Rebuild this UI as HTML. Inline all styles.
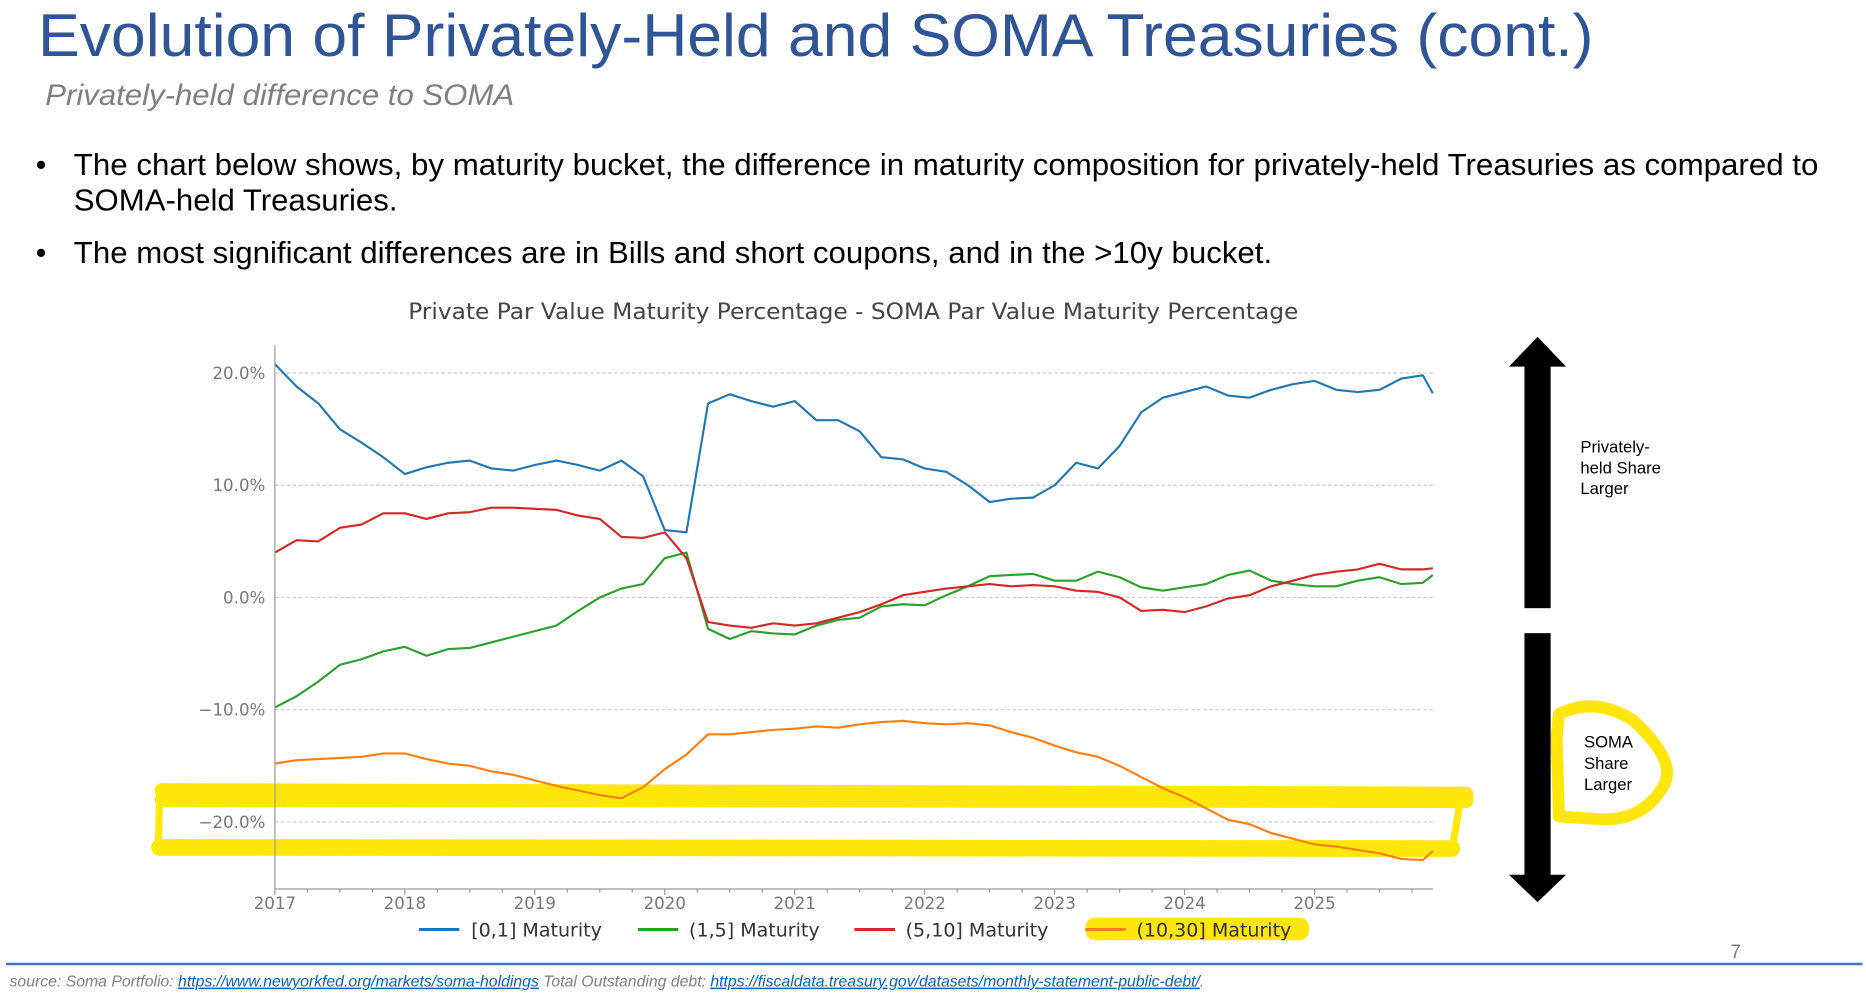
<!DOCTYPE html>
<html><head><meta charset="utf-8"><style>
html,body{margin:0;padding:0;background:#fff;width:1866px;height:995px;overflow:hidden}
svg{display:block}
.t{font-family:"Liberation Sans",Arial,sans-serif}
.c{font-family:"DejaVu Sans","Liberation Sans",sans-serif}
</style></head><body>
<svg id="page" width="1866" height="995" viewBox="0 0 1568 836" xmlns="http://www.w3.org/2000/svg">
<text class="t" x="32" y="47" font-size="51" fill="#2F5597" textLength="1307" lengthAdjust="spacingAndGlyphs">Evolution of Privately-Held and SOMA Treasuries (cont.)</text>
<text class="t" x="38" y="88" font-size="25" font-style="italic" fill="#7f7f7f" textLength="394" lengthAdjust="spacingAndGlyphs">Privately-held difference to SOMA</text>
<g class="t" font-size="25.5" fill="#000">
<text x="30" y="147">•</text>
<text x="62" y="147" textLength="1466" lengthAdjust="spacingAndGlyphs">The chart below shows, by maturity bucket, the difference in maturity composition for privately-held Treasuries as compared to</text>
<text x="62" y="177" textLength="272" lengthAdjust="spacingAndGlyphs">SOMA-held Treasuries.</text>
<text x="30" y="221">•</text>
<text x="62" y="221" textLength="1007" lengthAdjust="spacingAndGlyphs">The most significant differences are in Bills and short coupons, and in the &gt;10y bucket.</text>
</g>
<text class="c" x="717" y="268" font-size="19" fill="#444" text-anchor="middle" textLength="748" lengthAdjust="spacingAndGlyphs">Private Par Value Maturity Percentage - SOMA Par Value Maturity Percentage</text>
<g id="grid"></g>
<g id="yellow" fill="none" stroke="#FFE600" stroke-linecap="round" stroke-linejoin="round" opacity="0.95">
<path d="M136,664 L1232,667 L1232,673 L136,672" stroke-width="12"/>
<path d="M134,712 L1220,713" stroke-width="14"/>
<path d="M134,668 L133,716" stroke-width="6"/>
<path d="M1228,666 L1220,716" stroke-width="6"/>
<path d="M1310,600 Q1340,585 1372,605 Q1410,640 1398,660 Q1380,692 1340,688 L1310,686 L1308,620 Z" stroke-width="10"/>
<rect x="912" y="771" width="188" height="19" rx="8" fill="#FFE600" stroke="none"/>
</g>
<g id="series"></g>
<g id="axes"></g>
<g id="legend" class="c" font-size="16" fill="#333">
<line x1="352" y1="781" x2="386" y2="781" stroke="#1f77b4" stroke-width="2.5"/>
<text x="396" y="787">[0,1] Maturity</text>
<line x1="536" y1="781" x2="570" y2="781" stroke="#2ca02c" stroke-width="2.5"/>
<text x="579" y="787">(1,5] Maturity</text>
<line x1="718" y1="781" x2="752" y2="781" stroke="#d62728" stroke-width="2.5"/>
<text x="761" y="787">(5,10] Maturity</text>
<line x1="912" y1="781" x2="946" y2="781" stroke="#ff7f0e" stroke-width="2.5"/>
<text x="955" y="787">(10,30] Maturity</text>
</g>
<g fill="#000">
<rect x="1281" y="305" width="22" height="206"/>
<polygon points="1268,308 1292,283 1316,308"/>
</g>
<g fill="#000">
<rect x="1281" y="532" width="22" height="206"/>
<polygon points="1268,735 1292,758 1316,735"/>
</g>
<g class="t" font-size="14" fill="#000">
<text x="1328" y="380">Privately-</text><text x="1328" y="398">held Share</text><text x="1328" y="415">Larger</text>
</g>
<g class="t" font-size="14" fill="#000">
<text x="1331" y="628">SOMA</text><text x="1331" y="646">Share</text><text x="1331" y="664">Larger</text>
</g>
<text class="t" x="1454" y="805" font-size="16" fill="#7f7f7f">7</text>
<line x1="5" y1="810" x2="1565" y2="810" stroke="#4472c4" stroke-width="2"/>
<text class="t" x="8" y="829" font-size="13" font-style="italic" fill="#7f7f7f" textLength="1004" lengthAdjust="spacingAndGlyphs">source: Soma Portfolio: <tspan fill="#0563C1" text-decoration="underline">https://www.newyorkfed.org/markets/soma-holdings</tspan>  Total Outstanding debt: <tspan fill="#0563C1" text-decoration="underline">https://fiscaldata.treasury.gov/datasets/monthly-statement-public-debt/</tspan>.</text>
</svg>
<script>
const startYear = 2017;
const stepMonths = 2;
const yTicks = [20, 10, 0, -10, -20];
const yTickLabels = ["20.0%", "10.0%", "0.0%", "\u221210.0%", "\u221220.0%"];
const xTicks = [2017, 2018, 2019, 2020, 2021, 2022, 2023, 2024, 2025];
const seriesNames = ["[0,1]", "(1,5]", "(5,10]", "(10,30]"];
const bills = [20.8,18.8,17.3,15.0,13.8,12.5,11.0,11.6,12.0,12.2,11.5,11.3,11.8,12.2,11.8,11.3,12.2,10.8,6.0,5.8,17.3,18.1,17.5,17.0,17.5,15.8,15.8,14.8,12.5,12.3,11.5,11.2,10.0,8.5,8.8,8.9,10.0,12.0,11.5,13.5,16.5,17.8,18.3,18.8,18.0,17.8,18.5,19.0,19.3,18.5,18.3,18.5,19.5,19.8,18.2];
const short5 = [-9.8,-8.8,-7.5,-6.0,-5.5,-4.8,-4.4,-5.2,-4.6,-4.5,-4.0,-3.5,-3.0,-2.5,-1.2,0.0,0.8,1.2,3.5,4.0,-2.8,-3.7,-3.0,-3.2,-3.3,-2.5,-2.0,-1.8,-0.8,-0.6,-0.7,0.2,1.0,1.9,2.0,2.1,1.5,1.5,2.3,1.8,0.9,0.6,0.9,1.2,2.0,2.4,1.5,1.2,1.0,1.0,1.5,1.8,1.2,1.3,2.0];
const mid10 = [4.0,5.1,5.0,6.2,6.5,7.5,7.5,7.0,7.5,7.6,8.0,8.0,7.9,7.8,7.3,7.0,5.4,5.3,5.8,3.5,-2.2,-2.5,-2.7,-2.3,-2.5,-2.3,-1.8,-1.3,-0.6,0.2,0.5,0.8,1.0,1.2,1.0,1.1,1.0,0.6,0.5,0.0,-1.2,-1.1,-1.3,-0.8,-0.1,0.2,1.0,1.5,2.0,2.3,2.5,3.0,2.5,2.5,2.6];
const long30 = [-14.8,-14.5,-14.4,-14.3,-14.2,-13.9,-13.9,-14.4,-14.8,-15.0,-15.5,-15.8,-16.3,-16.8,-17.2,-17.6,-17.9,-16.9,-15.3,-14.0,-12.2,-12.2,-12.0,-11.8,-11.7,-11.5,-11.6,-11.3,-11.1,-11.0,-11.2,-11.3,-11.2,-11.4,-12.0,-12.5,-13.2,-13.8,-14.2,-15.0,-16.0,-17.0,-17.8,-18.8,-19.8,-20.2,-21.0,-21.5,-22.0,-22.2,-22.5,-22.8,-23.3,-23.4,-22.6];
const colors = ["#1f77b4","#2ca02c","#d62728","#ff7f0e"];

const NS = "http://www.w3.org/2000/svg";
const X0 = 231, X1 = 1204, YTOP = 290, YBOT = 747;
const yearPx = 109.2;
function xScale(year){ return X0 + (year - startYear) * yearPx; }
function yScale(v){ return 502 - v * 9.43; }
function mk(tag, attrs, parent){ const e = document.createElementNS(NS, tag); for (const k in attrs) e.setAttribute(k, attrs[k]); parent.appendChild(e); return e; }

const grid = document.getElementById('grid');
const axes = document.getElementById('axes');
yTicks.forEach((v, i) => {
  const g = mk('line', {x1: X0, x2: X1, y1: yScale(v), y2: yScale(v), stroke: '#cccccc', 'stroke-dasharray': '3,2', 'stroke-width': 1}, grid);
  
  
  const t = mk('text', {x: X0 - 8, y: yScale(v) + 5, 'font-size': 14, fill: '#777', 'text-anchor': 'end', class: 'c'}, axes);
  t.textContent = yTickLabels[i];
  
  
});
const ya = mk('line', {x1: X0, x2: X0, y1: YTOP, y2: YBOT, stroke: '#999', 'stroke-width': 1}, axes);


const xa = mk('line', {x1: X0, x2: X1, y1: YBOT, y2: YBOT, stroke: '#999', 'stroke-width': 1}, axes);


for (let m = 0; m <= 107; m += 3) {
  const x = xScale(startYear + m / 12);
  if (x > X1) break;
  const tk = mk('line', {x1: x, x2: x, y1: YBOT, y2: YBOT + (m % 12 === 0 ? 5 : 3), stroke: '#999'}, axes);
  
  
}
xTicks.forEach(yr => {
  const t = mk('text', {x: xScale(yr), y: 764, 'font-size': 14, fill: '#777', 'text-anchor': 'middle', class: 'c'}, axes);
  t.textContent = String(yr);
  
  
});

const series = document.getElementById('series');
[bills, short5, mid10, long30].forEach((arr, si) => {
  const pts = arr.map((v, i) => {
    const x = Math.min(xScale(startYear + i * stepMonths / 12), X1);
    return x.toFixed(1) + ',' + yScale(v).toFixed(1);
  }).join(' ');
  const p = mk('polyline', {points: pts, fill: 'none', stroke: colors[si], 'stroke-width': 1.8, 'stroke-linejoin': 'round'}, series);
  
  
});
</script>
</body></html>
